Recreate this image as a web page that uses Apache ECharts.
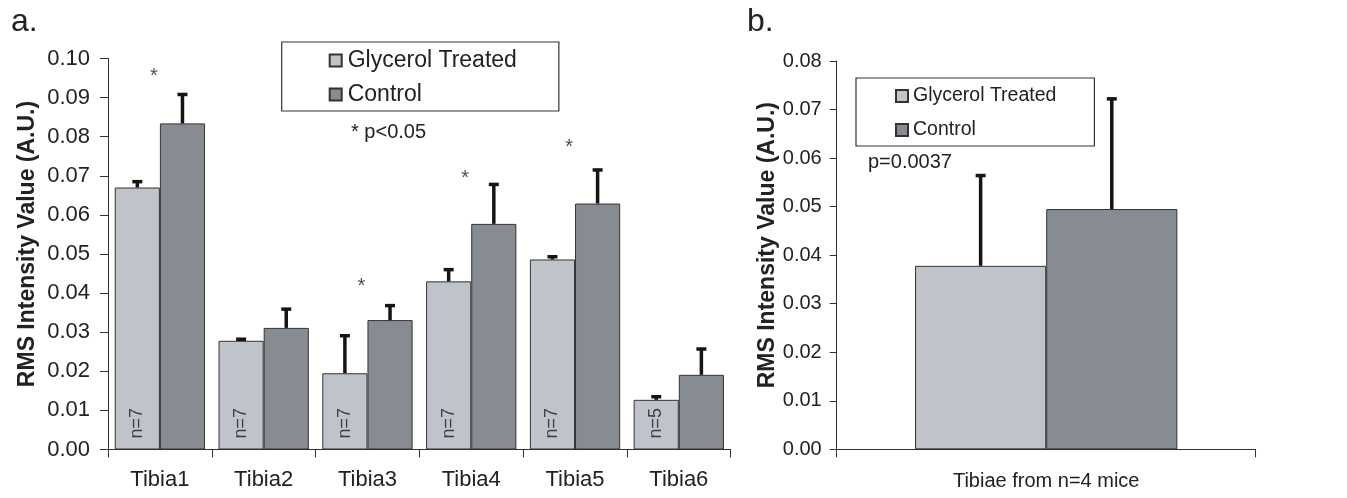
<!DOCTYPE html>
<html><head><meta charset="utf-8">
<script src="https://cdn.jsdelivr.net/npm/echarts@6/dist/echarts.min.js"></script>
<style>html,body{margin:0;padding:0;background:#fff}#c{width:1347px;height:498px}</style>
</head><body><div id="c"></div>
<script>
// ---- Panel a data ----
const categories = ['Tibia1', 'Tibia2', 'Tibia3', 'Tibia4', 'Tibia5', 'Tibia6'];
const glycerolMean = [0.0670, 0.0278, 0.0195, 0.0430, 0.0486, 0.0127];
const glycerolErr = [0.0015, 0.0004, 0.0096, 0.0030, 0.0007, 0.0008];
const controlMean = [0.0834, 0.0311, 0.0331, 0.0577, 0.0629, 0.0191];
const controlErr = [0.0074, 0.0048, 0.0037, 0.0101, 0.0086, 0.0066];
const sampleSizes = ['n=7', 'n=7', 'n=7', 'n=7', 'n=7', 'n=5'];
const sigCategories = ['Tibia1', 'Tibia3', 'Tibia4', 'Tibia5'];
const sigHeights = [0.0966, 0.0429, 0.0707, 0.0785];
const leftAxisMax = 0.10;
const leftAxisStep = 0.01;
// ---- Panel b data ----
const pooledCategory = ['Tibiae from n=4 mice'];
const pooledGlycerol = [0.0378];
const pooledGlycerolErr = [0.0186];
const pooledControl = [0.0495];
const pooledControlErr = [0.0227];
const rightAxisMax = 0.08;
const rightAxisStep = 0.01;
const seriesNames = ['Glycerol Treated', 'Control'];

const FONT = 'Liberation Sans, Arial, Helvetica, sans-serif';
const TXT = '#222';
const LINE = '#333';
const C_GLY = '#bfc3ca';
const C_CTL = '#878c93';
const LEFT_GAP = 0.13, RIGHT_GAP = 0.374;

function errRender(gap) {
  return function (params, api) {
    const cat = api.value(0);
    const mean = api.value(1);
    const err = api.value(2);
    const side = api.value(3);
    const catW = api.size([1, 0])[0];
    const barW = catW * (1 - gap) / 2;
    const off = (side === 0 ? -0.5 : 0.5) * barW;
    const base = api.coord([cat, mean]);
    const top = api.coord([cat, mean + err]);
    const x = base[0] + off;
    return {
      type: 'group',
      children: [
        { type: 'line', shape: { x1: x, y1: base[1], x2: x, y2: top[1] }, style: { stroke: '#151515', lineWidth: 3.5 } },
        { type: 'line', shape: { x1: x - 5, y1: top[1], x2: x + 5, y2: top[1] }, style: { stroke: '#151515', lineWidth: 3.5 } }
      ]
    };
  };
}

function errData(means, errs, side) {
  return means.map((m, i) => [i, m, errs[i], side]);
}

const barStyle = (c) => ({ color: c, borderColor: LINE, borderWidth: 1 });

const yAxisCommon = (max, step, fontSize, gap, nameGap, tickLen) => ({
  type: 'value', min: 0, max: max, interval: step,
  axisLine: { show: true, lineStyle: { color: LINE, width: 1 } },
  axisTick: { show: true, length: tickLen, lineStyle: { color: LINE } },
  splitLine: { show: false },
  axisLabel: { color: TXT, fontSize: fontSize, fontFamily: FONT, margin: gap, formatter: v => v.toFixed(2) },
  name: 'RMS Intensity Value (A.U.)', nameLocation: 'middle', nameRotate: 90, nameGap: nameGap,
  nameTextStyle: { color: TXT, fontSize: 23, fontWeight: 'bold', fontFamily: FONT, padding: [0, 0, 0, 20] }
});

const option = {
  backgroundColor: '#ffffff',
  animation: false,
  grid: [
    { left: 108, top: 58.5, width: 622.7, height: 391 },
    { left: 836.7, top: 61, width: 419, height: 388.3 }
  ],
  xAxis: [
    { type: 'category', gridIndex: 0, data: categories,
      axisLine: { lineStyle: { color: LINE } },
      axisTick: { show: true, length: 8, lineStyle: { color: LINE } },
      axisLabel: { color: TXT, fontSize: 22, fontFamily: FONT, margin: 19 } },
    { type: 'category', gridIndex: 1, data: pooledCategory,
      axisLine: { lineStyle: { color: LINE } },
      axisTick: { show: true, length: 8, lineStyle: { color: LINE } },
      axisLabel: { color: TXT, fontSize: 20, fontFamily: FONT, margin: 22 } }
  ],
  yAxis: [
    Object.assign({ gridIndex: 0 }, yAxisCommon(leftAxisMax, leftAxisStep, 22, 18, 69, 8)),
    Object.assign({ gridIndex: 1 }, yAxisCommon(rightAxisMax, rightAxisStep, 20, 15, 46, 7))
  ],
  legend: [
    { orient: 'vertical', left: 281.7, top: 42, itemWidth: 12, itemHeight: 12, itemGap: 11,
      padding: [7, 42, 5, 47], borderColor: '#333', borderWidth: 1.2, icon: 'rect',
      textStyle: { color: TXT, fontSize: 23, fontFamily: FONT, padding: [0, 0, 0, 1] },
      data: seriesNames, selectedMode: false },
    { orient: 'vertical', left: 856, top: 78, itemWidth: 12, itemHeight: 12, itemGap: 14,
      padding: [8, 38, 6, 39], borderColor: '#333', borderWidth: 1.2, icon: 'rect',
      textStyle: { color: TXT, fontSize: 19.5, fontFamily: FONT },
      data: seriesNames, selectedMode: false }
  ],
  graphic: [
    { type: 'text', left: 11, top: 6, style: { text: 'a.', font: '32px ' + FONT, fill: TXT } },
    { type: 'text', left: 747, top: 6, style: { text: 'b.', font: '32px ' + FONT, fill: TXT } },
    { type: 'text', left: 351, top: 122, style: { text: '* p<0.05', font: '20px ' + FONT, fill: TXT } },
    { type: 'text', left: 868, top: 152, style: { text: 'p=0.0037', font: '20px ' + FONT, fill: TXT } }
  ],
  series: [
    { name: seriesNames[0], type: 'bar', xAxisIndex: 0, yAxisIndex: 0, data: glycerolMean,
      barGap: '0%', barCategoryGap: (LEFT_GAP * 100) + '%', itemStyle: barStyle(C_GLY),
      label: { show: true, position: 'insideBottom', rotate: 90, align: 'left', verticalAlign: 'middle',
        distance: 9, offset: [2, 0], color: '#3a3f48', fontSize: 18, fontFamily: FONT,
        formatter: p => sampleSizes[p.dataIndex] } },
    { name: seriesNames[1], type: 'bar', xAxisIndex: 0, yAxisIndex: 0, data: controlMean,
      barGap: '0%', barCategoryGap: (LEFT_GAP * 100) + '%', itemStyle: barStyle(C_CTL) },
    { type: 'custom', xAxisIndex: 0, yAxisIndex: 0, renderItem: errRender(LEFT_GAP),
      data: errData(glycerolMean, glycerolErr, 0), z: 5, silent: true },
    { type: 'custom', xAxisIndex: 0, yAxisIndex: 0, renderItem: errRender(LEFT_GAP),
      data: errData(controlMean, controlErr, 1), z: 5, silent: true },
    { type: 'scatter', xAxisIndex: 0, yAxisIndex: 0, symbolSize: 0, silent: true,
      data: sigCategories.map((c, i) => [c, sigHeights[i]]),
      label: { show: true, position: 'inside', formatter: '*', offset: [-6, 5], color: TXT, fontSize: 20, fontFamily: FONT } },
    { name: seriesNames[0], type: 'bar', xAxisIndex: 1, yAxisIndex: 1, data: pooledGlycerol,
      barGap: '0%', barCategoryGap: (RIGHT_GAP * 100) + '%', itemStyle: barStyle(C_GLY) },
    { name: seriesNames[1], type: 'bar', xAxisIndex: 1, yAxisIndex: 1, data: pooledControl,
      barGap: '0%', barCategoryGap: (RIGHT_GAP * 100) + '%', itemStyle: barStyle(C_CTL) },
    { type: 'custom', xAxisIndex: 1, yAxisIndex: 1, renderItem: errRender(RIGHT_GAP),
      data: errData(pooledGlycerol, pooledGlycerolErr, 0), z: 5, silent: true },
    { type: 'custom', xAxisIndex: 1, yAxisIndex: 1, renderItem: errRender(RIGHT_GAP),
      data: errData(pooledControl, pooledControlErr, 1), z: 5, silent: true }
  ]
};
const chart = echarts.init(document.getElementById('c'), null, { renderer: 'canvas' });
chart.setOption(option);
</script>
</body></html>
